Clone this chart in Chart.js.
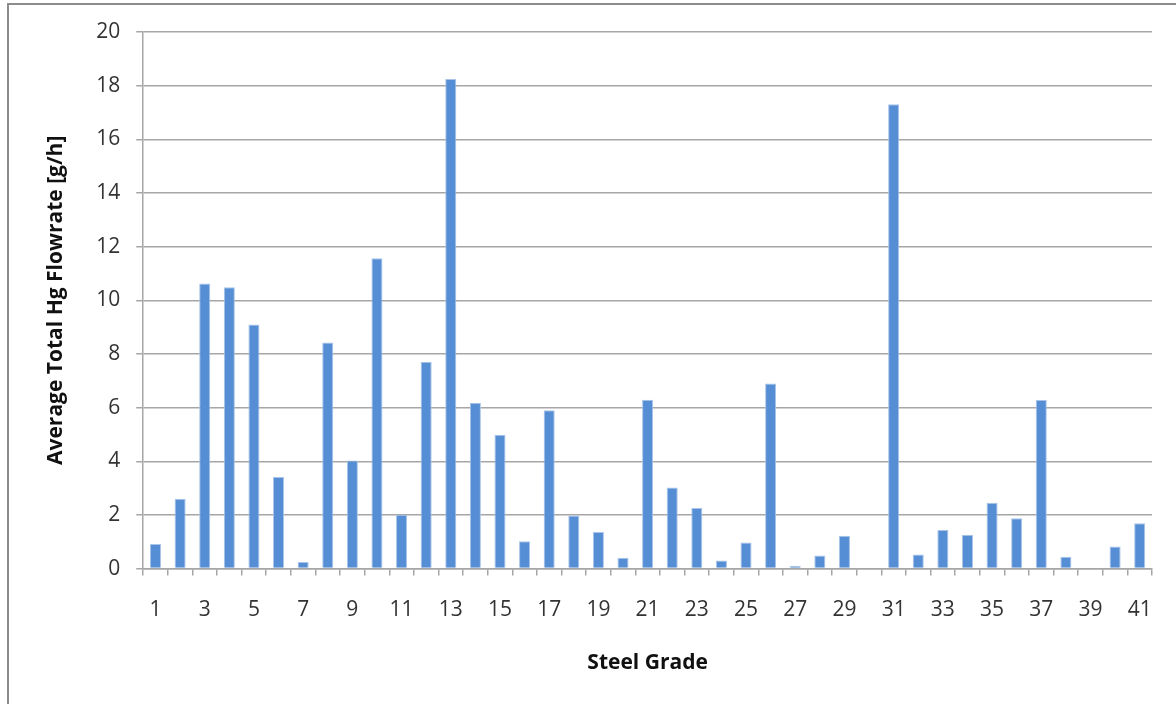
<!DOCTYPE html>
<html>
<head>
<meta charset="utf-8">
<script src="https://cdn.jsdelivr.net/npm/chart.js@4/dist/chart.umd.min.js"></script>
<style>
  html, body { margin: 0; padding: 0; background: #fff; }
  #frame {
    position: absolute; left: 7px; top: 3px;
    width: 1200px; height: 720px;
    border-left: 2px solid #8c8c8c; border-top: 2px solid #8c8c8c;
  }
  #wrap { position: absolute; left: 0; top: 0; width: 1176px; height: 704px; }
</style>
</head>
<body>
<div id="frame"></div>
<div id="wrap"><canvas id="chartHg"></canvas></div>
<script>
// steel grades 1..41
const grades = [];
for (let i = 1; i <= 41; i++) grades.push(String(i));

// average total Hg flowrate [g/h]
const flowrates = [
  0.92, 2.6, 10.63, 10.49, 9.1, 3.41, 0.25, 8.43, 4.03, 11.57,
  2.01, 7.71, 18.25, 6.18, 4.99, 1.02, 5.9, 1.98, 1.36, 0.4,
  6.29, 3.02, 2.26, 0.3, 0.97, 6.9, 0.11, 0.49, 1.22, 0,
  17.31, 0.53, 1.44, 1.26, 2.45, 1.88, 6.28, 0.44, 0, 0.82,
  1.69
];

const yTicks = [0, 2, 4, 6, 8, 10, 12, 14, 16, 18, 20];

const fontFamily = "'Open Sans', 'DejaVu Sans', sans-serif";
const gridGray = "#a6a6a6";

const chartHgElement = document.querySelector("#chartHg");

new Chart(chartHgElement, {
  type: "bar",
  data: {
    labels: grades,
    datasets: [
      {
        label: "Average Total Hg Flowrate",
        data: flowrates,
        backgroundColor: "#558ed5",
        borderColor: "#a9c4e8",
        borderWidth: 1,
        categoryPercentage: 1,
        barPercentage: 0.45,
      },
    ],
  },
  options: {
    responsive: true,
    maintainAspectRatio: false,
    animation: false,
    layout: { padding: { left: 39, top: 32, right: 24, bottom: 24 } },
    plugins: {
      legend: { display: false },
      tooltip: { enabled: false },
    },
    scales: {
      x: {
        offset: true,
        grid: {
          offset: true,
          drawOnChartArea: false,
          drawTicks: true,
          tickLength: 7,
          color: gridGray,
          lineWidth: 1.5,
        },
        border: { color: gridGray, width: 1.5 },
        ticks: {
          autoSkip: false,
          maxRotation: 0,
          color: "#333",
          padding: 22,
          font: { family: fontFamily, size: 21 },
          callback: (value, index) => (index % 2 === 0 ? grades[index] : ""),
        },
        title: {
          display: true,
          text: "Steel Grade",
          color: "#111",
          padding: { top: 6 },
          font: { family: fontFamily, size: 21, weight: "bold" },
        },
      },
      y: {
        min: 0,
        max: 20,
        afterBuildTicks: (axis) => {
          axis.ticks = yTicks.map((v) => ({ value: v }));
        },
        grid: {
          color: gridGray,
          lineWidth: 1.5,
          drawTicks: true,
          tickLength: 7,
        },
        border: { color: gridGray, width: 1.5 },
        ticks: {
          color: "#333",
          padding: 16,
          font: { family: fontFamily, size: 21 },
        },
        title: {
          display: true,
          text: "Average Total Hg Flowrate [g/h]",
          color: "#111",
          padding: { bottom: 12 },
          font: { family: fontFamily, size: 21, weight: "bold" },
        },
      },
    },
  },
});
</script>
</body>
</html>
